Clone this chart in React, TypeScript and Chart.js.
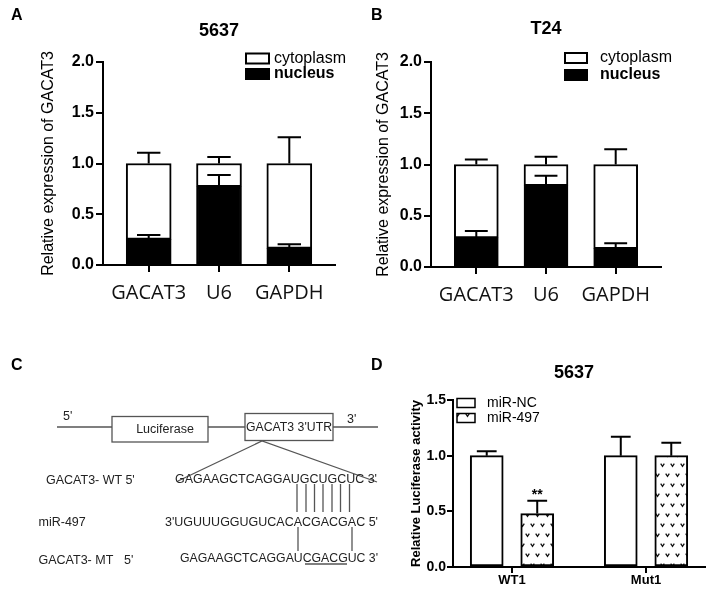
import React, { useEffect, useRef } from 'react';
import { Chart, registerables } from 'chart.js';

Chart.register(...registerables);

const SANS = 'Arial, "Liberation Sans", Helvetica, sans-serif';
const OPEN = '"Open Sans", Arial, sans-serif';

// ---------- Panels A & B : subcellular fractionation ----------
const genes = ['GACAT3', 'U6', 'GAPDH'];
const nucleus5637 = [0.253, 0.771, 0.164];
const cytoplasm5637 = [0.747, 0.229, 0.836];
const nucleusErr5637 = [0.042, 0.116, 0.04];
const cytoplasmErr5637 = [0.107, 0.064, 0.258];
const nucleusT24 = [0.284, 0.793, 0.18];
const cytoplasmT24 = [0.716, 0.207, 0.82];
const nucleusErrT24 = [0.068, 0.097, 0.052];
const cytoplasmErrT24 = [0.05, 0.076, 0.149];
const yTicksAB = [0, 0.5, 1, 1.5, 2];

// ---------- Panel D : luciferase reporter ----------
const groupsD = ['WT1', 'Mut1'];
const miRNC = [1.0, 1.0];
const miR497 = [0.48, 1.0];
const miRNCErr = [0.04, 0.17];
const miR497Err = [0.115, 0.117];
const yTicksD = [0, 0.5, 1, 1.5];
const sigMarksD = [{ dataset: 1, index: 0, text: '**' }];

// ---------- plugins ----------
const errorBars = {
  id: 'errorBars',
  afterDatasetsDraw(chart: any) {
    const { ctx } = chart;
    const y = chart.scales.y;
    chart.data.datasets.forEach((ds: any, di: number) => {
      if (!ds.errors) return;
      chart.getDatasetMeta(di).data.forEach((bar: any, i: number) => {
        const e = ds.errors[i];
        if (!e) return;
        const top = y.getPixelForValue(y.getValueForPixel(bar.y) + e);
        const half = (bar.width * (ds.capRatio || 0.5)) / 2;
        ctx.save();
        ctx.strokeStyle = '#000';
        ctx.lineWidth = 2;
        ctx.beginPath();
        ctx.moveTo(bar.x, bar.y);
        ctx.lineTo(bar.x, top - 1);
        ctx.moveTo(bar.x - half, top);
        ctx.lineTo(bar.x + half, top);
        ctx.stroke();
        ctx.restore();
      });
    });
  },
};

const panelTitle = {
  id: 'panelTitle',
  afterDraw(chart: any, _a: any, o: any) {
    if (!o || !o.text) return;
    const { ctx, chartArea } = chart;
    ctx.save();
    ctx.font = `bold ${o.size}px ${SANS}`;
    ctx.fillStyle = '#000';
    ctx.textAlign = 'center';
    ctx.textBaseline = 'middle';
    ctx.fillText(o.text, (chartArea.left + chartArea.right) / 2 + (o.dx || 0), o.y);
    ctx.restore();
  },
};

const boxLegend = {
  id: 'boxLegend',
  afterDraw(chart: any, _a: any, o: any) {
    if (!o || !o.order) return;
    const { ctx } = chart;
    const order: number[] = Array.from(o.order);
    order.forEach((di, row) => {
      const ds: any = chart.data.datasets[di];
      const cy = o.y + row * o.rowGap;
      ctx.save();
      ctx.fillStyle = ds.backgroundColor;
      ctx.fillRect(o.x, cy - o.boxH / 2, o.boxW, o.boxH);
      ctx.lineWidth = o.lineWidth;
      ctx.strokeStyle = '#000';
      ctx.strokeRect(o.x, cy - o.boxH / 2, o.boxW, o.boxH);
      ctx.fillStyle = '#000';
      ctx.font = `${ds.legendBold ? 'bold ' : ''}${o.size}px ${SANS}`;
      ctx.textAlign = 'left';
      ctx.textBaseline = 'middle';
      ctx.fillText(ds.label, o.textX, cy);
      ctx.restore();
    });
  },
};

const sigMarks = {
  id: 'sigMarks',
  afterDatasetsDraw(chart: any, _a: any, o: any) {
    if (!o || !o.marks) return;
    const y = chart.scales.y;
    const { ctx } = chart;
    Array.from(o.marks).forEach((m: any) => {
      const ds: any = chart.data.datasets[m.dataset];
      const bar: any = chart.getDatasetMeta(m.dataset).data[m.index];
      const top = y.getPixelForValue(ds.data[m.index].y + ds.errors[m.index]);
      ctx.save();
      ctx.font = `bold ${o.size}px ${SANS}`;
      ctx.textAlign = 'center';
      ctx.textBaseline = 'alphabetic';
      ctx.fillStyle = '#000';
      ctx.fillText(m.text, bar.x, top - o.gap);
      ctx.restore();
    });
  },
};

function makeVPattern(ctx: CanvasRenderingContext2D) {
  const c = document.createElement('canvas');
  c.width = 10;
  c.height = 20;
  const g = c.getContext('2d')!;
  g.fillStyle = '#fff';
  g.fillRect(0, 0, 10, 20);
  g.strokeStyle = '#111';
  g.lineWidth = 1.3;
  const v = (x: number, yy: number) => {
    g.beginPath();
    g.moveTo(x - 1.8, yy - 1.3);
    g.lineTo(x, yy + 1.3);
    g.lineTo(x + 1.8, yy - 1.3);
    g.stroke();
  };
  v(2.5, 5);
  v(7.5, 15);
  return ctx.createPattern(c, 'repeat');
}

const axisGrid = (tick: number) => ({
  display: true,
  drawOnChartArea: false,
  drawTicks: true,
  offset: false,
  tickLength: tick,
  color: '#000',
  lineWidth: 2,
});
const axisBorder = { display: true, color: '#000', width: 2 };

function stackedConfig(p: any) {
  const toXY = (arr: number[]) => arr.map((v, i) => ({ x: i, y: v }));
  return {
    type: 'bar',
    data: {
      datasets: [
        {
          label: 'nucleus',
          data: toXY(p.nuc),
          backgroundColor: '#000',
          borderColor: '#000',
          borderWidth: 2,
          borderSkipped: false,
          stack: 'g',
          barThickness: p.barW,
          errors: p.nucErr,
          capRatio: 0.52,
          legendBold: true,
        },
        {
          label: 'cytoplasm',
          data: toXY(p.cyto),
          backgroundColor: '#fff',
          borderColor: '#000',
          borderWidth: 2,
          borderSkipped: false,
          stack: 'g',
          barThickness: p.barW,
          errors: p.cytoErr,
          capRatio: 0.52,
          legendBold: false,
        },
      ],
    },
    options: {
      animation: false,
      responsive: false,
      maintainAspectRatio: false,
      layout: { padding: { top: p.top, right: p.right, left: 0, bottom: 0 } },
      scales: {
        x: {
          type: 'linear',
          offset: false,
          min: -0.65,
          max: 2.65,
          afterBuildTicks: (s: any) => {
            s.ticks = genes.map((_, i) => ({ value: i }));
          },
          afterFit: (s: any) => {
            s.height = p.xH;
          },
          ticks: {
            autoSkip: false,
            maxRotation: 0,
            callback: (v: any) => genes[v] ?? '',
            color: '#111',
            font: { family: OPEN, size: 20 },
            padding: p.xPad,
          },
          grid: axisGrid(7),
          border: axisBorder,
        },
        y: {
          stacked: true,
          min: 0,
          max: 2,
          afterBuildTicks: (s: any) => {
            s.ticks = yTicksAB.map((v) => ({ value: v }));
          },
          afterFit: (s: any) => {
            s.width = p.axisX;
          },
          ticks: {
            callback: (v: any) => Number(v).toFixed(1),
            color: '#000',
            font: { family: SANS, size: 16, weight: 'bold' },
            padding: 2,
          },
          grid: axisGrid(7),
          border: axisBorder,
          title: {
            display: true,
            text: 'Relative expression of GACAT3',
            color: '#000',
            font: { family: SANS, size: 16 },
            padding: { top: p.titlePad, bottom: 0 },
          },
        },
      },
      plugins: {
        legend: { display: false },
        tooltip: { enabled: false },
        panelTitle: { text: p.title, size: 18, y: p.titleY, dx: 0 },
        boxLegend: {
          order: [1, 0],
          x: p.legX,
          y: p.legY,
          rowGap: p.legGap,
          boxW: p.legBoxW,
          boxH: 10,
          lineWidth: 2,
          textX: p.legTextX,
          size: 16,
        },
      },
    },
    plugins: [errorBars, panelTitle, boxLegend],
  };
}

function luciferaseConfig(ctx: CanvasRenderingContext2D) {
  const pattern = makeVPattern(ctx);
  const toXY = (arr: number[]) => arr.map((v, i) => ({ x: i, y: v }));
  return {
    type: 'bar',
    data: {
      datasets: [
        {
          label: 'miR-NC',
          data: toXY(miRNC),
          backgroundColor: '#fff',
          borderColor: '#000',
          borderWidth: 2,
          borderSkipped: false,
          barThickness: 50.5,
          maxBarThickness: 33,
          errors: miRNCErr,
          capRatio: 0.6,
        },
        {
          label: 'miR-497',
          data: toXY(miR497),
          backgroundColor: pattern,
          borderColor: '#000',
          borderWidth: 2,
          borderSkipped: false,
          barThickness: 50.5,
          maxBarThickness: 33,
          errors: miR497Err,
          capRatio: 0.6,
        },
      ],
    },
    options: {
      animation: false,
      responsive: false,
      maintainAspectRatio: false,
      layout: { padding: { top: 60, right: 3, left: 0, bottom: 0 } },
      scales: {
        x: {
          type: 'linear',
          offset: false,
          min: -0.44,
          max: 1.44,
          afterBuildTicks: (s: any) => {
            s.ticks = groupsD.map((_, i) => ({ value: i }));
          },
          afterFit: (s: any) => {
            s.height = 22;
          },
          ticks: {
            autoSkip: false,
            maxRotation: 0,
            callback: (v: any) => groupsD[v] ?? '',
            color: '#000',
            font: { family: SANS, size: 13, weight: 'bold' },
            padding: 0,
          },
          grid: axisGrid(6),
          border: axisBorder,
        },
        y: {
          min: 0,
          max: 1.5,
          afterBuildTicks: (s: any) => {
            s.ticks = yTicksD.map((v) => ({ value: v }));
          },
          afterFit: (s: any) => {
            s.width = 73;
          },
          ticks: {
            callback: (v: any) => Number(v).toFixed(1),
            color: '#000',
            font: { family: SANS, size: 14, weight: 'bold' },
            padding: 1,
          },
          grid: axisGrid(6),
          border: axisBorder,
          title: {
            display: true,
            text: 'Relative Luciferase activity',
            color: '#000',
            font: { family: SANS, size: 13, weight: 'bold' },
            padding: { top: 29, bottom: 0 },
          },
        },
      },
      plugins: {
        legend: { display: false },
        tooltip: { enabled: false },
        panelTitle: { text: '5637', size: 18, y: 33, dx: -5 },
        boxLegend: {
          order: [0, 1],
          x: 77,
          y: 63,
          rowGap: 15,
          boxW: 18,
          boxH: 9,
          lineWidth: 1.5,
          textX: 107,
          size: 14,
        },
        sigMarks: { marks: sigMarksD, size: 14, gap: 2 },
      },
    },
    plugins: [errorBars, panelTitle, boxLegend, sigMarks],
  };
}

function ChartCanvas({ left, top, width, height, build }: any) {
  const ref = useRef<HTMLCanvasElement>(null);
  useEffect(() => {
    const canvas = ref.current!;
    const ctx = canvas.getContext('2d')!;
    const chart = new Chart(canvas, build(ctx));
    return () => chart.destroy();
  }, []);
  return (
    <canvas
      ref={ref}
      width={width}
      height={height}
      style={{ position: 'absolute', left, top, width, height, display: 'block' }}
    />
  );
}

function ConstructDiagram() {
  const line = '#555';
  const txt = '#222';
  const pairX = [297, 306, 314.5, 323, 332, 340.5, 349.5];
  return (
    <svg
      width={708}
      height={589}
      style={{ position: 'absolute', left: 0, top: 0, pointerEvents: 'none' }}
      fontFamily={SANS}
    >
      <g fontWeight="bold" fontSize={16} fill="#000">
        <text x={11} y={20}>A</text>
        <text x={371} y={20}>B</text>
        <text x={11} y={370}>C</text>
        <text x={371} y={370}>D</text>
      </g>
      <g stroke={line} strokeWidth={1.3} fill="none">
        <line x1={57} y1={427} x2={378} y2={427} />
        <rect x={112} y={416.5} width={96} height={25.5} fill="#fff" />
        <rect x={245} y={413.5} width={88} height={27} fill="#fff" />
        <polyline points="178,481 262,441 377,482" />
        {pairX.map((x) => (
          <line key={x} x1={x} y1={484} x2={x} y2={512} />
        ))}
        <line x1={298} y1={527} x2={298} y2={551} />
        <line x1={352} y1={527} x2={352} y2={551} />
        <line x1={305} y1={564} x2={347} y2={564} />
      </g>
      <g fill={txt} fontSize={12.5} dominantBaseline="central">
        <text x={63} y={416}>5'</text>
        <text x={347} y={419}>3'</text>
        <text x={165} y={429} textAnchor="middle">Luciferase</text>
        <text x={246} y={427} fontSize={12} textLength={86} lengthAdjust="spacingAndGlyphs">GACAT3 3'UTR</text>
        <text x={46} y={480}>GACAT3- WT 5'</text>
        <text x={175} y={479} textLength={202} lengthAdjust="spacingAndGlyphs">GAGAAGCTCAGGAUGCUGCUC 3'</text>
        <text x={38.5} y={522}>miR-497</text>
        <text x={165} y={522} textLength={213} lengthAdjust="spacingAndGlyphs">3'UGUUUGGUGUCACACGACGAC 5'</text>
        <text x={38.5} y={560}>GACAT3- MT</text>
        <text x={124} y={560}>5'</text>
        <text x={180} y={558} textLength={198} lengthAdjust="spacingAndGlyphs">GAGAAGCTCAGGAUCGACGUC 3'</text>
      </g>
    </svg>
  );
}

export default function App() {
  return (
    <div style={{ position: 'absolute', left: 0, top: 0, width: 708, height: 589, background: '#fff', overflow: 'hidden' }}>
      <ChartCanvas
        left={0}
        top={0}
        width={354}
        height={310}
        build={() =>
          stackedConfig({
            title: '5637',
            titleY: 31,
            nuc: nucleus5637,
            cyto: cytoplasm5637,
            nucErr: nucleusErr5637,
            cytoErr: cytoplasmErr5637,
            barW: 45,
            top: 62,
            right: 19,
            xH: 45,
            axisX: 103,
            xPad: 9,
            titlePad: 39,
            legX: 246,
            legY: 58.5,
            legGap: 15.5,
            legBoxW: 23,
            legTextX: 274,
          })
        }
      />
      <ChartCanvas
        left={354}
        top={0}
        width={354}
        height={310}
        build={() =>
          stackedConfig({
            title: 'T24',
            titleY: 29,
            nuc: nucleusT24,
            cyto: cytoplasmT24,
            nucErr: nucleusErrT24,
            cytoErr: cytoplasmErrT24,
            barW: 44,
            top: 62,
            right: 47,
            xH: 43,
            axisX: 77,
            xPad: 9,
            titlePad: 19.5,
            legX: 211,
            legY: 58,
            legGap: 17,
            legBoxW: 22,
            legTextX: 246,
          })
        }
      />
      <ChartCanvas left={380} top={340} width={328} height={249} build={(ctx: any) => luciferaseConfig(ctx)} />
      <ConstructDiagram />
    </div>
  );
}
